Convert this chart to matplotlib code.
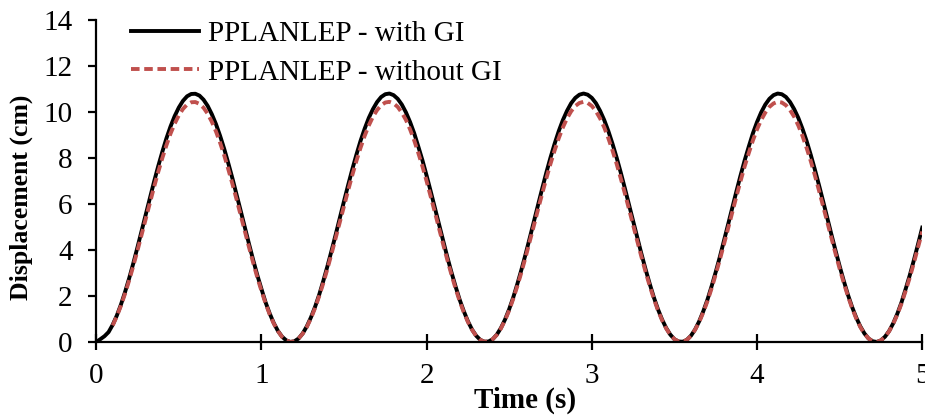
import numpy as np
import matplotlib
matplotlib.use("Agg")
import matplotlib.pyplot as plt

plt.rcParams['font.family'] = ['Liberation Serif', 'DejaVu Serif']

# samples read on a 0.05 s grid, plus the in-between points (0.025 s offset)
time_a = np.round(np.arange(0, 101) * 0.05, 3)
time_b = np.round(time_a[:-1] + 0.025, 3)

disp_with_gi_a = [
    0.00, 0.25, 0.75, 1.63, 2.78, 4.12, 5.54, 6.96, 8.26, 9.37,
    10.19, 10.68, 10.79, 10.53, 9.90, 8.96, 7.76, 6.40, 4.97, 3.57,
    2.31, 1.24, 0.48, 0.07, 0.03, 0.37, 1.07, 2.06, 3.30, 4.68,
    6.12, 7.50, 8.74, 9.74, 10.43, 10.77, 10.73, 10.32, 9.56, 8.49,
    7.23, 5.83, 4.40, 3.04, 1.84, 0.90, 0.27, 0.01, 0.12, 0.61,
    1.43, 2.54, 3.84, 5.26, 6.68, 8.02, 9.17, 10.05, 10.61, 10.80,
    10.61, 10.05, 9.17, 8.02, 6.68, 5.26, 3.84, 2.54, 1.43, 0.61,
    0.12, 0.01, 0.27, 0.90, 1.84, 3.04, 4.40, 5.83, 7.23, 8.49,
    9.56, 10.32, 10.73, 10.77, 10.43, 9.74, 8.74, 7.50, 6.12, 4.68,
    3.30, 2.06, 1.07, 0.37, 0.03, 0.07, 0.48, 1.24, 2.31, 3.57,
    4.97,
]
disp_with_gi_b = [
    0.12, 0.43, 1.15, 2.18, 3.43, 4.83, 6.26, 7.63, 8.85, 9.82,
    10.48, 10.78, 10.71, 10.26, 9.47, 8.39, 7.10, 5.69, 4.26, 2.91,
    1.73, 0.82, 0.23, 0.00, 0.15, 0.68, 1.53, 2.66, 3.98, 5.40,
    6.82, 8.14, 9.27, 10.12, 10.65, 10.80, 10.57, 9.98, 9.07, 7.89,
    6.54, 5.11, 3.70, 2.42, 1.34, 0.54, 0.09, 0.02, 0.32, 0.98,
    1.95, 3.17, 4.54, 5.97, 7.37, 8.62, 9.65, 10.38, 10.75, 10.75,
    10.38, 9.65, 8.62, 7.37, 5.97, 4.54, 3.17, 1.95, 0.98, 0.32,
    0.02, 0.09, 0.54, 1.34, 2.42, 3.70, 5.11, 6.54, 7.89, 9.07,
    9.98, 10.57, 10.80, 10.65, 10.12, 9.27, 8.14, 6.82, 5.40, 3.98,
    2.66, 1.53, 0.68, 0.15, 0.00, 0.23, 0.82, 1.73, 2.91, 4.26,
]

# without GI curve starts at t = 0.1 s
disp_without_gi_a = [
    0.72, 1.58, 2.69, 3.98, 5.36, 6.73, 7.99, 9.06,
    9.85, 10.32, 10.43, 10.18, 9.57, 8.66, 7.50, 6.19, 4.80, 3.45,
    2.23, 1.20, 0.47, 0.07, 0.03, 0.36, 1.03, 2.00, 3.19, 4.53,
    5.91, 7.25, 8.44, 9.41, 10.08, 10.41, 10.37, 9.97, 9.24, 8.21,
    6.99, 5.64, 4.25, 2.94, 1.78, 0.87, 0.26, 0.01, 0.12, 0.59,
    1.38, 2.45, 3.71, 5.08, 6.46, 7.75, 8.86, 9.72, 10.26, 10.44,
    10.26, 9.72, 8.86, 7.75, 6.46, 5.08, 3.71, 2.45, 1.38, 0.59,
    0.12, 0.01, 0.26, 0.87, 1.78, 2.94, 4.25, 5.64, 6.99, 8.21,
    9.24, 9.97, 10.37, 10.41, 10.08, 9.41, 8.44, 7.25, 5.91, 4.53,
    3.19, 2.00, 1.03, 0.36, 0.03, 0.07, 0.47, 1.20, 2.23, 3.45,
    4.80,
]
disp_without_gi_b = [
    1.12, 2.11, 3.32, 4.67, 6.05, 7.38, 8.55, 9.49,
    10.13, 10.42, 10.35, 9.92, 9.15, 8.11, 6.86, 5.50, 4.12, 2.81,
    1.68, 0.80, 0.22, 0.00, 0.15, 0.65, 1.48, 2.57, 3.85, 5.22,
    6.59, 7.87, 8.96, 9.79, 10.29, 10.44, 10.22, 9.65, 8.76, 7.63,
    6.32, 4.94, 3.58, 2.33, 1.29, 0.53, 0.09, 0.02, 0.31, 0.95,
    1.89, 3.06, 4.39, 5.78, 7.12, 8.33, 9.33, 10.03, 10.39, 10.39,
    10.03, 9.33, 8.33, 7.12, 5.78, 4.39, 3.06, 1.89, 0.95, 0.31,
    0.02, 0.09, 0.53, 1.29, 2.33, 3.58, 4.94, 6.32, 7.63, 8.76,
    9.65, 10.22, 10.44, 10.29, 9.79, 8.96, 7.87, 6.59, 5.22, 3.85,
    2.57, 1.48, 0.65, 0.15, 0.00, 0.22, 0.80, 1.68, 2.81, 4.12,
]


def merge(ta, ya, tb, yb):
    t = np.concatenate([ta, tb])
    y = np.concatenate([ya, yb])
    order = np.argsort(t)
    return t[order], y[order]


t1, y1 = merge(time_a, disp_with_gi_a, time_b, disp_with_gi_b)
t2, y2 = merge(time_a[2:], disp_without_gi_a, time_b[2:], disp_without_gi_b)

fig = plt.figure(figsize=(9.25, 4.15), dpi=100)
ax = fig.add_axes([0.104, 0.176, 0.893, 0.776])

ax.plot(t1, y1, color='black', lw=2.8, label='PPLANLEP - with GI')
ax.plot(t2, y2, color='#C0504D', lw=2.8, dashes=(2.2, 1.2),
        label='PPLANLEP - without GI')

ax.set_xlim(0, 5)
ax.set_ylim(0, 14)
ax.set_xticks(range(0, 6))
ax.set_yticks(range(0, 15, 2))

for s in ['top', 'right']:
    ax.spines[s].set_visible(False)
for s in ['left', 'bottom']:
    ax.spines[s].set_linewidth(1.6)

ax.tick_params(axis='x', direction='inout', length=11, width=1.6,
               labelsize=21, pad=10)
ax.tick_params(axis='y', direction='out', length=6, width=1.6,
               labelsize=21, pad=11)

ax.set_xlabel('Time (s)', fontsize=21, fontweight='bold')
ax.xaxis.label.set_verticalalignment('center')
ax.xaxis.set_label_coords(0.519, -0.18)
ax.set_ylabel('Displacement (cm)', fontsize=18.5, fontweight='bold')
ax.yaxis.label.set_verticalalignment('center')
ax.yaxis.set_label_coords(-0.091, 0.45)

ax.legend(loc='upper left', bbox_to_anchor=(0.138, 0.957),
          bbox_transform=fig.transFigure, frameon=False, fontsize=21,
          handlelength=2.33, handletextpad=0.31, labelspacing=0.41,
          borderpad=0.1, borderaxespad=0)

fig.savefig('out.png', dpi=100)
